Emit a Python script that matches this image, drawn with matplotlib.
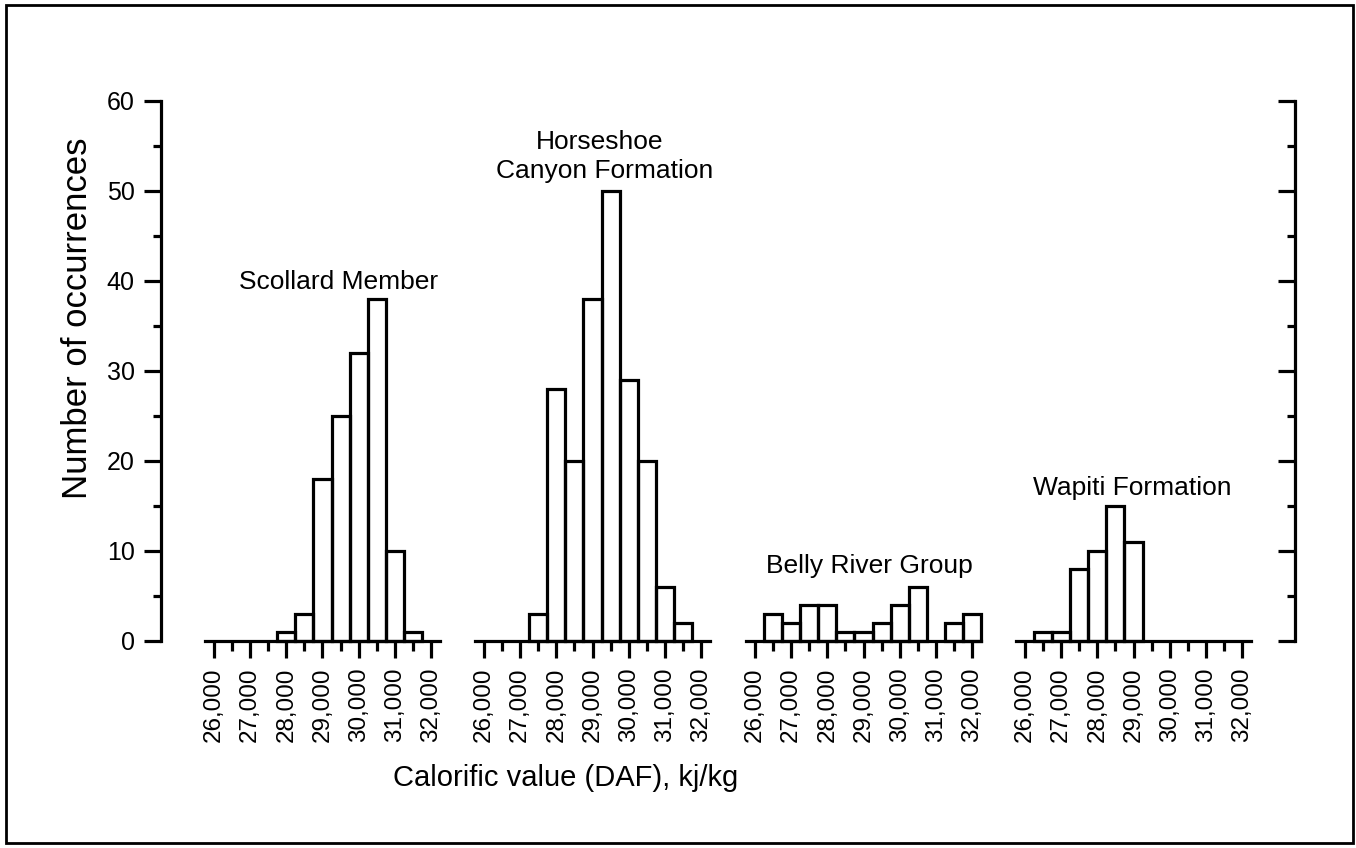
import matplotlib
matplotlib.use('Agg')
import matplotlib.pyplot as plt
import matplotlib.patches as patches
from matplotlib.ticker import MultipleLocator, FuncFormatter

plt.rcParams['font.family'] = ['Liberation Sans', 'DejaVu Sans']

# bin centres (kJ/kg) and counts for each unit
scollard_x = [28000, 28500, 29000, 29500, 30000, 30500, 31000, 31500]
scollard_n = [1, 3, 18, 25, 32, 38, 10, 1]

horseshoe_x = [27500, 28000, 28500, 29000, 29500, 30000, 30500, 31000, 31500]
horseshoe_n = [3, 28, 20, 38, 50, 29, 20, 6, 2]

belly_x = [26500, 27000, 27500, 28000, 28500, 29000, 29500, 30000, 30500, 31000, 31500, 32000]
belly_n = [3, 2, 4, 4, 1, 1, 2, 4, 6, 0, 2, 3]

wapiti_x = [26500, 27000, 27500, 28000, 28500, 29000]
wapiti_n = [1, 1, 8, 10, 15, 11]

xticks = [26000, 27000, 28000, 29000, 30000, 31000, 32000]
yticks = [0, 10, 20, 30, 40, 50, 60]

W, H = 1356, 848
fig = plt.figure(figsize=(W / 100, H / 100), dpi=100)

def rect(x0, y_top, x1, y_bot):
    return [x0 / W, 1 - y_bot / H, (x1 - x0) / W, (y_bot - y_top) / H]

y0_px, y60_px = 641, 101
lw = 2.3

# outer frame
fig.add_artist(patches.Rectangle((6 / W, 5 / H), (1353 - 6) / W, (843 - 5) / H,
                                 transform=fig.transFigure, fill=False,
                                 lw=2, edgecolor='black'))

# main axes just for the two y spines
ax = fig.add_axes(rect(161, y60_px, 1295, y0_px))
ax.set_ylim(0, 60)
ax.set_xticks([])
ax.spines['top'].set_visible(False)
ax.spines['bottom'].set_visible(False)
for s in ('left', 'right'):
    ax.spines[s].set_linewidth(lw)
ax.yaxis.set_major_locator(MultipleLocator(10))
ax.yaxis.set_minor_locator(MultipleLocator(5))
ax.tick_params(axis='y', which='major', length=12, width=lw, labelsize=18, pad=7)
ax.tick_params(axis='y', which='minor', length=5.5, width=lw)
ax.set_yticks(yticks)
ax.patch.set_alpha(0)

# right spine ticks pointing inward
axr = ax.twinx()
axr.set_ylim(0, 60)
axr.set_xticks([])
for s in axr.spines.values():
    s.set_visible(False)
axr.yaxis.set_major_locator(MultipleLocator(10))
axr.yaxis.set_minor_locator(MultipleLocator(5))
axr.tick_params(axis='y', which='major', direction='in', length=12, width=lw, labelright=False)
axr.tick_params(axis='y', which='minor', direction='in', length=5.5, width=lw)

groups = [(scollard_x, scollard_n), (horseshoe_x, horseshoe_n),
          (belly_x, belly_n), (wapiti_x, wapiti_n)]
starts = [214, 484, 755, 1025]
span = 217
pad = span * 250 / 6000

for (xs, ns), x0 in zip(groups, starts):
    g = fig.add_axes(rect(x0 - pad, y60_px, x0 + span + pad, y0_px))
    g.patch.set_alpha(0)
    g.set_xlim(25750, 32250)
    g.set_ylim(0, 60)
    g.set_yticks([])
    for s in ('top', 'left', 'right'):
        g.spines[s].set_visible(False)
    g.spines['bottom'].set_linewidth(lw)
    hx = [x for x, n in zip(xs, ns) if n > 0]
    hn = [n for n in ns if n > 0]
    g.bar(hx, hn, width=500, fill=False, edgecolor='black', linewidth=lw, clip_on=False)
    g.set_xticks(xticks)
    g.xaxis.set_minor_locator(MultipleLocator(500))
    g.xaxis.set_major_formatter(FuncFormatter(lambda v, p: f'{int(v):,}'))
    g.tick_params(axis='x', which='major', length=12, width=lw, labelsize=17.5,
                  labelrotation=90, pad=7)
    g.tick_params(axis='x', which='minor', length=7, width=lw)

fs = 19
fig.text(339 / W, 1 - 282 / H, 'Scollard Member', fontsize=fs, ha='center', va='center')
fig.text(600 / W, 1 - 142 / H, 'Horseshoe', fontsize=fs, ha='center', va='center')
fig.text(605 / W, 1 - 171 / H, 'Canyon Formation', fontsize=fs, ha='center', va='center')
fig.text(869 / W, 1 - 566 / H, 'Belly River Group', fontsize=fs, ha='center', va='center')
fig.text(1132 / W, 1 - 488 / H, 'Wapiti Formation', fontsize=fs, ha='center', va='center')
fig.text(566 / W, 1 - 778 / H, 'Calorific value (DAF), kj/kg', fontsize=21,
         ha='center', va='center')
fig.text(78 / W, 1 - 318 / H, 'Number of occurrences', fontsize=25,
         ha='center', va='center', rotation=90)

fig.savefig('out.png', dpi=100)
